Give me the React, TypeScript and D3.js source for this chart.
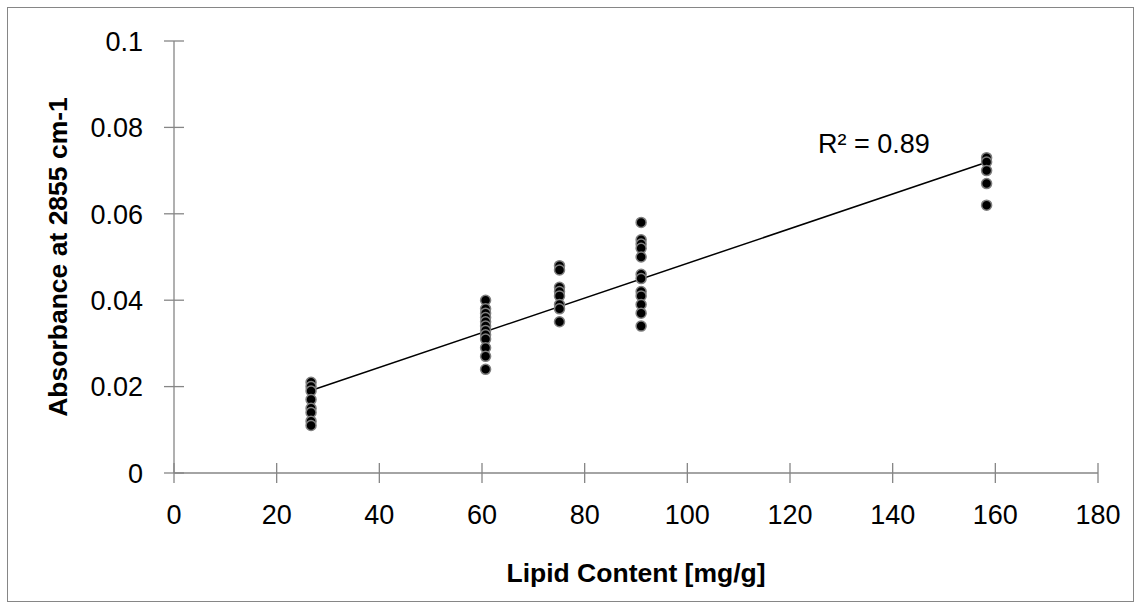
import React from 'react';
import { scaleLinear, line } from 'd3';

const width = 1141;
const height = 608;
const margins = { top: 41, right: 43, bottom: 135, left: 174 };

// lipid content [mg/g] per sample group, absorbance readings per group
const lipidGroups = [26.7, 60.7, 75.1, 91.0, 158.3];
const group1 = [0.021, 0.020, 0.019, 0.017, 0.015, 0.014, 0.012, 0.011];
const group2 = [0.040, 0.038, 0.037, 0.036, 0.035, 0.034, 0.033, 0.032, 0.031, 0.029, 0.027, 0.024];
const group3 = [0.048, 0.047, 0.043, 0.042, 0.041, 0.039, 0.038, 0.035];
const group4 = [0.058, 0.054, 0.053, 0.052, 0.050, 0.046, 0.045, 0.042, 0.041, 0.039, 0.037, 0.034];
const group5 = [0.073, 0.072, 0.070, 0.067, 0.062];
const absorbance = [group1, group2, group3, group4, group5];

const xTicks = [0, 20, 40, 60, 80, 100, 120, 140, 160, 180];
const yTicks = [0, 0.02, 0.04, 0.06, 0.08, 0.1];
const rSquared = 'R² = 0.89';

const font = '"Liberation Sans", Arial, sans-serif';
const axisColor = '#868686';

export default function App() {
  const points = lipidGroups.flatMap((x, i) => absorbance[i].map((y) => ({ x, y })));

  const xScale = scaleLinear()
    .domain([0, 180])
    .range([margins.left, width - margins.right]);
  const yScale = scaleLinear()
    .domain([0, 0.1])
    .range([height - margins.bottom, margins.top]);

  // least squares trend line, like Excel's linear trendline
  const n = points.length;
  const mx = points.reduce((s, p) => s + p.x, 0) / n;
  const my = points.reduce((s, p) => s + p.y, 0) / n;
  const sxy = points.reduce((s, p) => s + (p.x - mx) * (p.y - my), 0);
  const sxx = points.reduce((s, p) => s + (p.x - mx) * (p.x - mx), 0);
  const slope = sxy / sxx;
  const intercept = my - slope * mx;
  const xMin = lipidGroups[0];
  const xMax = lipidGroups[lipidGroups.length - 1];
  const trend = [
    [xMin, intercept + slope * xMin],
    [xMax, intercept + slope * xMax],
  ];
  const trendPath = line<number[]>()
    .x((d) => xScale(d[0]))
    .y((d) => yScale(d[1]))(trend);

  const x0 = xScale(0);
  const y0 = yScale(0);

  return (
    <svg
      width={width}
      height={height}
      style={{ position: 'absolute', left: 0, top: 0, display: 'block' }}
      fontFamily={font}
    >
      <rect x={0} y={0} width={width} height={height} fill="white" />
      <rect x={7.5} y={7.5} width={1126} height={594} fill="none" stroke={axisColor} strokeWidth={1} />

      {/* y axis */}
      <line x1={x0} x2={x0} y1={yScale(0.1)} y2={y0} stroke={axisColor} strokeWidth={1.3} />
      {yTicks.map((t) => (
        <g key={'y' + t}>
          <line x1={x0 - 10} x2={x0 + 10} y1={yScale(t)} y2={yScale(t)} stroke={axisColor} strokeWidth={1.3} />
          <text x={x0 - 31} y={yScale(t)} dy="0.36em" textAnchor="end" fontSize={27}>
            {t}
          </text>
        </g>
      ))}

      {/* x axis */}
      <line x1={x0} x2={xScale(180)} y1={y0} y2={y0} stroke={axisColor} strokeWidth={1.3} />
      {xTicks.map((t) => (
        <g key={'x' + t}>
          <line x1={xScale(t)} x2={xScale(t)} y1={y0 - 10} y2={y0 + 10} stroke={axisColor} strokeWidth={1.3} />
          <text x={xScale(t)} y={y0 + 41} dy="0.36em" textAnchor="middle" fontSize={27}>
            {t}
          </text>
        </g>
      ))}

      {/* trend line */}
      <path d={trendPath ?? ''} stroke="black" strokeWidth={1.5} fill="none" />

      {/* points */}
      {points.map((p, i) => (
        <circle key={i} cx={xScale(p.x)} cy={yScale(p.y)} r={5} fill="black" stroke="#7f7f7f" strokeWidth={1.5} />
      ))}

      <text x={818} y={143} dy="0.36em" fontSize={27}>
        {rSquared}
      </text>

      <text x={(x0 + xScale(180)) / 2} y={572} dy="0.36em" textAnchor="middle" fontSize={26.5} fontWeight="bold">
        Lipid Content [mg/g]
      </text>
      <text
        transform={`translate(67,${(yScale(0.1) + y0) / 2}) rotate(-90)`}
        textAnchor="middle"
        fontSize={26.5}
        fontWeight="bold"
      >
        Absorbance at 2855 cm-1
      </text>
    </svg>
  );
}
